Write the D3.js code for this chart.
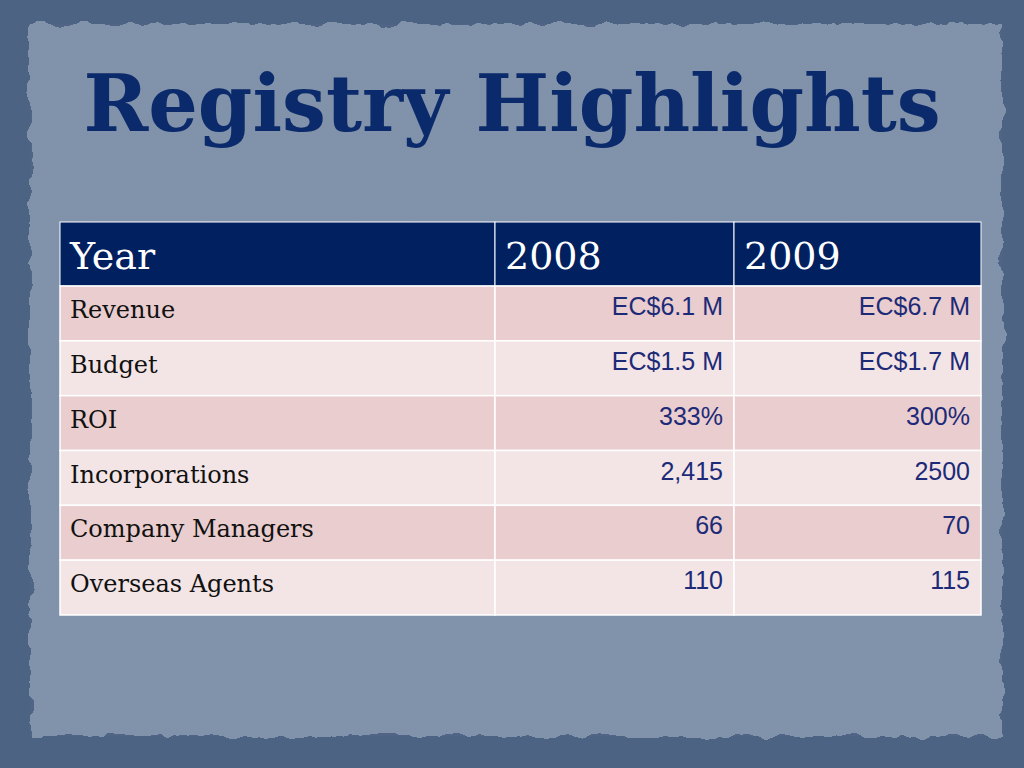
<!DOCTYPE html>
<html><head><meta charset="utf-8">
<script src="https://cdn.jsdelivr.net/npm/d3@7"></script>
<style>body{margin:0;overflow:hidden}</style></head>
<body><svg id="c" width="1024" height="768"></svg>
<script>
const title = "Registry Highlights";
const headers = ["Year", "2008", "2009"];
const rowLabels = ["Revenue", "Budget", "ROI", "Incorporations", "Company Managers", "Overseas Agents"];
const values2008 = ["EC$6.1 M", "EC$1.5 M", "333%", "2,415", "66", "110"];
const values2009 = ["EC$6.7 M", "EC$1.7 M", "300%", "2500", "70", "115"];

const svg = d3.select("#c");
const defs = svg.append("defs");
const f = defs.append("filter").attr("id","rough");
f.append("feTurbulence").attr("type","fractalNoise").attr("baseFrequency","0.04").attr("numOctaves",3).attr("result","n");
f.append("feDisplacementMap").attr("in","SourceGraphic").attr("in2","n").attr("scale",14);
const g2 = defs.append("filter").attr("id","grain");
g2.append("feTurbulence").attr("type","fractalNoise").attr("baseFrequency","0.8").attr("numOctaves",2).attr("result","t");
g2.append("feColorMatrix").attr("type","matrix").attr("values","0 0 0 0 0.2  0 0 0 0 0.25  0 0 0 0 0.35  0 0 0 0.12 0");
g2.append("feComposite").attr("in2","SourceGraphic").attr("operator","in");

svg.append("rect").attr("width",1024).attr("height",768).attr("fill","#4d6384");
svg.append("rect").attr("x",30).attr("y",24).attr("width",972).attr("height",712).attr("fill","#8193ab").attr("filter","url(#rough)");
svg.append("rect").attr("x",30).attr("y",24).attr("width",972).attr("height",712).attr("fill","#7a8ca6").attr("filter","url(#grain)");

svg.append("text").attr("x",512).attr("y",131).attr("text-anchor","middle")
  .attr("font-family","DejaVu Serif").attr("font-weight","bold").attr("font-size",78)
  .attr("fill","#0b2a6b").text(title);

const x = d3.scaleOrdinal().domain([0,1,2]).range([60,495,734]);
const w = [435,239,247];
const y = d3.scaleBand().domain(d3.range(rowLabels.length)).range([286,615]);
const t = svg.append("g");
headers.forEach((h,i)=>{
  t.append("rect").attr("x",x(i)).attr("y",222).attr("width",w[i]).attr("height",64).attr("fill","#00205f").attr("stroke","#ffffff").attr("stroke-width",1);
  t.append("text").attr("x",x(i)+10).attr("y",269).attr("font-family","DejaVu Serif").attr("font-size",38).attr("fill","#fff").text(h);
});
rowLabels.forEach((lab,r)=>{
  const fill = r%2===0 ? "#eacdce" : "#f3e5e5";
  [lab, values2008[r], values2009[r]].forEach((v,i)=>{
    t.append("rect").attr("x",x(i)).attr("y",y(r)).attr("width",w[i]).attr("height",y.bandwidth()).attr("fill",fill).attr("stroke","#ffffff").attr("stroke-width",1.5);
    if(i===0) t.append("text").attr("x",x(i)+10).attr("y",y(r)+32).attr("font-family","DejaVu Serif").attr("font-size",24).attr("fill","#111").text(v);
    else t.append("text").attr("x",x(i)+w[i]-11).attr("y",y(r)+29).attr("text-anchor","end").attr("font-family","Liberation Sans").attr("font-size",25).attr("fill","#1c2a78").text(v);
  });
});
</script></body></html>
